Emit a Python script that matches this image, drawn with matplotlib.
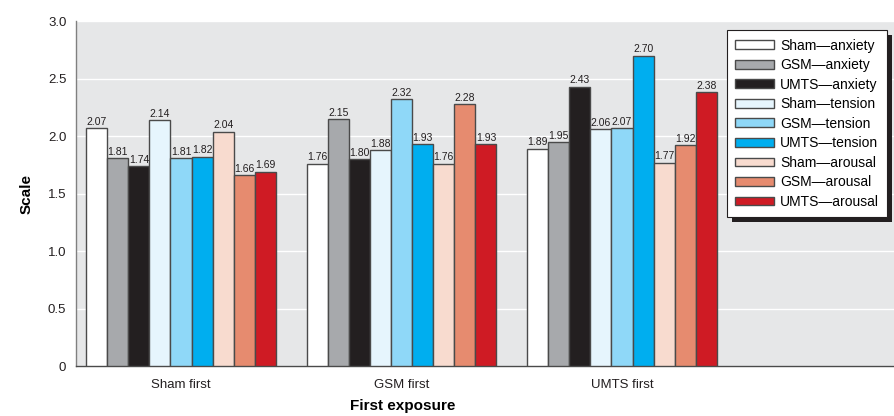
import numpy as np
import matplotlib
matplotlib.use("Agg")
import matplotlib.pyplot as plt
from matplotlib.patches import Rectangle

plt.rcParams['font.family'] = ['Liberation Sans Narrow', 'Liberation Sans', 'DejaVu Sans']

groups = ['Sham first', 'GSM first', 'UMTS first']
series = ['Sham\u2014anxiety', 'GSM\u2014anxiety', 'UMTS\u2014anxiety',
          'Sham\u2014tension', 'GSM\u2014tension', 'UMTS\u2014tension',
          'Sham\u2014arousal', 'GSM\u2014arousal', 'UMTS\u2014arousal']
sham_first = [2.07, 1.81, 1.74, 2.14, 1.81, 1.82, 2.04, 1.66, 1.69]
gsm_first = [1.76, 2.15, 1.80, 1.88, 2.32, 1.93, 1.76, 2.28, 1.93]
umts_first = [1.89, 1.95, 2.43, 2.06, 2.07, 2.70, 1.77, 1.92, 2.38]
colors = ['#ffffff', '#a7a9ac', '#231f20',
          '#e6f5fd', '#8fd8f8', '#00aeef',
          '#f8dbcf', '#e68b6f', '#cf1b24']

values = np.array([sham_first, gsm_first, umts_first])

fig = plt.figure(figsize=(8.95, 4.16), dpi=100)
ax = fig.add_axes([0.085, 0.120, 0.915, 0.829])
ax.set_facecolor('#e6e7e8')

x = np.arange(len(groups))
w = 0.0957
for i, name in enumerate(series):
    pos = x + (i - 4) * w
    bars = ax.bar(pos, values[:, i], width=w, color=colors[i],
                  edgecolor='#4a4a4a', linewidth=1.0, label=name, zorder=3)
    ax.bar_label(bars, labels=['%.2f' % v for v in values[:, i]],
                 padding=1, fontsize=7.5, color='#231f20')

ax.set_xlim(-0.476, 3.238)
ax.set_ylim(0, 3.0)
ax.set_yticks([0, 0.5, 1.0, 1.5, 2.0, 2.5, 3.0])
ax.set_yticklabels(['0', '0.5', '1.0', '1.5', '2.0', '2.5', '3.0'])
ax.set_xticks(x)
ax.set_xticklabels(groups)
ax.tick_params(axis='y', length=0, labelsize=9.5, colors='#231f20', pad=7)
ax.tick_params(axis='x', length=0, labelsize=9.5, colors='#231f20', pad=9)
ax.yaxis.grid(True, color='white', linewidth=1.0, zorder=0)
ax.set_axisbelow(True)
for s in ['top', 'right']:
    ax.spines[s].set_visible(False)
ax.spines['left'].set_color('#808080')
ax.spines['left'].set_linewidth(1.0)
ax.spines['bottom'].set_color('#4a4a4a')
ax.spines['bottom'].set_linewidth(1.0)

ax.set_ylabel('Scale', fontsize=11, fontweight='bold')
ax.yaxis.set_label_coords(-0.052, 0.5)
ax.set_xlabel('First exposure', fontsize=11, fontweight='bold')
ax.xaxis.set_label_coords(0.399, -0.095)

leg = ax.legend(loc='upper left', bbox_to_anchor=(0.795, 0.974), fontsize=10,
                frameon=True, fancybox=False, edgecolor='#231f20',
                handlelength=2.8, handleheight=0.6, labelspacing=0.4,
                borderpad=0.6, handletextpad=0.4, borderaxespad=0,
                framealpha=1)
leg.get_frame().set_linewidth(0.8)
leg.set_zorder(10)

# black drop shadow behind legend
fig.canvas.draw()
bb = leg.get_window_extent()
inv = ax.transAxes.inverted()
(x0, y0) = inv.transform((bb.x0 + 5, bb.y0 - 5))
(x1, y1) = inv.transform((bb.x1 + 5, bb.y1 - 5))
ax.add_patch(Rectangle((x0, y0), x1 - x0, y1 - y0, transform=ax.transAxes,
                       facecolor='#231f20', edgecolor='none', zorder=9,
                       clip_on=False))

fig.savefig('out.png', dpi=100)
